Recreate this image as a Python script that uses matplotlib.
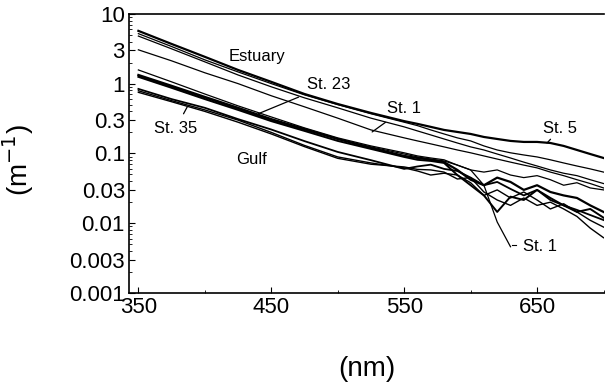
import numpy as np
import matplotlib
matplotlib.use("Agg")
import matplotlib.pyplot as plt
from matplotlib.ticker import FixedLocator, NullFormatter, LogLocator

plt.rcParams["font.family"] = ["Liberation Sans", "DejaVu Sans"]

nan = np.nan
wl = [350, 375, 400, 425, 450, 475, 500, 525, 550, 560, 570, 580,
      590, 600, 610, 620, 630, 640, 650, 660, 670, 680, 690, 700]

# estuary stations (St. 5 on top)
st5 = [5.7, 3.7, 2.42, 1.57, 1.06, 0.71, 0.51, 0.38, 0.29, 0.265, 0.24, 0.217,
       0.203, 0.19, 0.172, 0.161, 0.151, 0.146, 0.146, 0.141, 0.128, 0.112, 0.098, 0.086]
est2 = [5.2, 3.4, 2.19, 1.47, 1.0, 0.69, 0.50, 0.37, 0.28, 0.25, 0.217, 0.19,
        0.167, 0.151, 0.128, 0.112, 0.102, 0.095, 0.089, 0.081, 0.073, 0.066, 0.06, 0.054]
est3 = [4.8, 3.15, 2.05, 1.33, 0.9, 0.625, 0.45, 0.32, 0.24, 0.21, 0.184, 0.161,
        0.141, 0.124, 0.112, 0.098, 0.086, 0.075, 0.066, 0.058, 0.052, 0.048, 0.042, 0.037]
st1 = [3.05, 2.12, 1.43, 1.0, 0.67, 0.465, 0.32, 0.217, 0.167, 0.151, 0.137, 0.124,
       0.112, 0.102, 0.092, 0.083, 0.075, 0.068, 0.062, 0.054, 0.048, 0.042, 0.037, 0.032]
# intermediate stations
st23 = [1.57, 1.06, 0.71, 0.48, 0.333, 0.232, 0.167, 0.128, 0.102, 0.092, 0.086, 0.081,
        0.068, 0.058, 0.054, 0.058, 0.049, 0.045, 0.048, 0.042, 0.035, 0.038, 0.032, 0.030]
mid2 = [1.33, 0.93, 0.645, 0.45, 0.31, 0.224, 0.161, 0.12, 0.092, 0.086, 0.081, 0.075,
        0.058, 0.042, 0.035, 0.045, 0.039, 0.030, 0.035, 0.028, 0.025, 0.023, 0.018, 0.0145]
mid3 = [1.25, 0.87, 0.60, 0.42, 0.29, 0.21, 0.151, 0.116, 0.089, 0.081, 0.078, 0.073,
        0.049, 0.035, 0.025, 0.0145, 0.024, 0.0215, 0.030, 0.023, 0.018, 0.0145, 0.016, 0.012]
st1b = [1.29, 0.9, 0.625, 0.435, 0.30, 0.217, 0.161, 0.124, 0.098, 0.089, 0.083, 0.078,
        0.068, 0.058, 0.035, 0.0104, 0.0046, nan, nan, nan, nan, nan, nan, nan]
# gulf stations
st35 = [0.84, 0.60, 0.45, 0.31, 0.22, 0.15, 0.105, 0.08, 0.06, 0.065, 0.069, 0.06,
        0.056, 0.045, 0.035, 0.039, 0.031, 0.025, 0.03, 0.0215, 0.018, 0.0155, 0.0131, 0.0111]
gulf2 = [0.79, 0.57, 0.42, 0.30, 0.20, 0.13, 0.089, 0.073, 0.062, 0.056, 0.049, 0.052,
         0.049, 0.038, 0.025, 0.030, 0.023, 0.028, 0.0215, 0.016, 0.019, 0.0145, 0.011, 0.0088]
gulf3 = [0.75, 0.55, 0.40, 0.28, 0.19, 0.125, 0.085, 0.07, 0.064, 0.059, 0.058, 0.054,
         0.043, 0.045, 0.028, 0.0215, 0.018, 0.023, 0.018, 0.020, 0.016, 0.0125, 0.0085, 0.0062]

curves = [(st5, 1.6), (est2, 0.9), (est3, 0.9), (st1, 0.9),
          (st23, 0.9), (mid2, 1.6), (mid3, 1.4), (st1b, 0.9),
          (st35, 1.3), (gulf2, 1.0), (gulf3, 1.0)]

fig = plt.figure(figsize=(6.06, 3.84), dpi=100)
ax = fig.add_axes([0.213, 0.237, 0.784, 0.727])

for vals, lw in curves:
    ax.plot(wl, vals, color="black", lw=lw)

ax.set_yscale("log")
ax.set_xlim(343, 700.5)
ax.set_ylim(0.001, 10)

yt = [0.001, 0.003, 0.01, 0.03, 0.1, 0.3, 1, 3, 10]
ytl = ["0.001", "0.003", "0.01", "0.03", "0.1", "0.3", "1", "3", "10"]
ax.yaxis.set_major_locator(FixedLocator(yt))
ax.set_yticklabels(ytl)
ax.yaxis.set_minor_locator(LogLocator(base=10, subs=(2, 4, 5, 6, 7, 8, 9)))
ax.yaxis.set_minor_formatter(NullFormatter())
ax.set_xticks([350, 450, 550, 650])
ax.set_xticks([400, 500, 600, 700], minor=True)
ax.tick_params(axis="both", which="major", direction="in", length=4,
               width=0.8, labelsize=16, pad=3)
ax.tick_params(axis="both", which="minor", direction="in", length=2, width=0.6)
ax.spines["right"].set_visible(False)
for s in ["left", "top", "bottom"]:
    ax.spines[s].set_linewidth(1.2)

ax.set_xlabel("(nm)", fontsize=20, labelpad=27)
ax.set_ylabel("(m$^{-1}$)", fontsize=20)
ax.yaxis.set_label_coords(-0.196, 0.475)

fs = 12
ax.text(439.5, 2.42, "Estuary", fontsize=fs, ha="center", va="center")
ax.text(435, 0.081, "Gulf", fontsize=fs, ha="center", va="center")
ax.annotate("St. 23", xy=(440.2, 0.37), xytext=(492.9, 0.96), fontsize=fs,
            ha="center", va="center",
            arrowprops=dict(arrowstyle="-", lw=0.9, shrinkA=4, shrinkB=0))
ax.annotate("St. 1", xy=(525.9, 0.203), xytext=(550, 0.435), fontsize=fs,
            ha="center", va="center",
            arrowprops=dict(arrowstyle="-", lw=0.9, shrinkA=4, shrinkB=0))
ax.annotate("St. 35", xy=(386.8, 0.465), xytext=(377.8, 0.224), fontsize=fs,
            ha="center", va="center",
            arrowprops=dict(arrowstyle="-", lw=0.9, shrinkA=4, shrinkB=0))
ax.annotate("St. 5", xy=(657.5, 0.141), xytext=(667.3, 0.224), fontsize=fs,
            ha="center", va="center",
            arrowprops=dict(arrowstyle="-", lw=0.9, shrinkA=4, shrinkB=0))
ax.text(652.3, 0.0046, "St. 1", fontsize=fs, ha="center", va="center")
ax.plot([631.5, 634.5], [0.0049, 0.0049], color="black", lw=0.8)

fig.savefig("out.png", dpi=100)
